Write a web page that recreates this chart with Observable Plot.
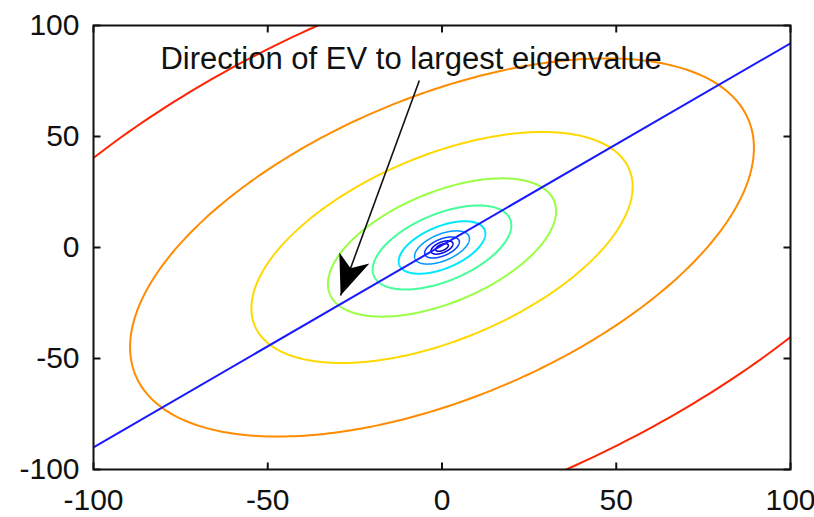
<!DOCTYPE html>
<html><head><meta charset="utf-8">
<script src="https://cdn.jsdelivr.net/npm/d3@7"></script>
<script src="https://cdn.jsdelivr.net/npm/@observablehq/plot@0.6"></script>
<style>
body{margin:0;background:#fff}
#chart{width:814px;height:517px}
</style>
</head><body><div id="chart"></div>
<script>
// ---- data ----
const xTicks = [-100, -50, 0, 50, 100];
const yTicks = [-100, -50, 0, 50, 100];
// semi-major axis (along the eigenvector) of each contour, outermost first
const contourSemiMajor = [181, 108, 66, 39.5, 24, 15, 9.5, 6, 3.8, 2.2];
const contourColors = ["#ff2400", "#ff8c00", "#ffd800", "#99ff44", "#44ff99", "#00e8ff", "#0099ff", "#0044ff", "#0000e8", "#0000b0"];
const contourAxisRatio = 1.8;     // major / minor
const evSlope = 0.91;             // slope of eigenvector to largest eigenvalue
const evLineX = [-100, 100];
const evLineY = [-90, 92];
const arrowFrom = {x: -6.5, y: 75.2};
const arrowTip = {x: -29.1, y: -21.6};
const noteText = "Direction of EV to largest eigenvalue";
const notePos = {x: -80.8, y: 84.7};

// ---- layout ----
const W = 814, H = 517, mL = 93, mR = 24, mT = 25, mB = 48;
const theta = Math.atan(evSlope);

function ellipse(a, k) {
  const b = a / contourAxisRatio, pts = [];
  for (let i = 0; i <= 360; i++) {
    const t = i / 360 * 2 * Math.PI;
    const u = a * Math.cos(t), v = b * Math.sin(t);
    pts.push({x: u * Math.cos(theta) - v * Math.sin(theta), y: u * Math.sin(theta) + v * Math.cos(theta), k});
  }
  return pts;
}

const kx = (W - mL - mR) / 200, ky = (H - mT - mB) / 200;
const dxp = (arrowTip.x - arrowFrom.x) * kx, dyp = -(arrowTip.y - arrowFrom.y) * ky;
const phi = Math.atan2(-dxp, dyp) * 180 / Math.PI;
const arrowHead = {draw(ctx) { ctx.moveTo(0, 0); ctx.lineTo(-16, -40); ctx.lineTo(0, -29); ctx.lineTo(16, -40); ctx.closePath(); }};

const contourMarks = contourSemiMajor.map((a, i) =>
  Plot.line(ellipse(a, i), {x: "x", y: "y", stroke: contourColors[i], strokeWidth: i >= 6 ? 1.5 : 2, clip: true}));

const evLine = evLineX.map((x, i) => ({x, y: evLineY[i]}));
const fmt = d => String(d);
const tickPx = 7;
const tx = tickPx / kx, ty = tickPx / ky;
const xMin = xTicks[0], xMax = xTicks[xTicks.length - 1];
const yMin = yTicks[0], yMax = yTicks[yTicks.length - 1];
const tickSegs = [
  ...xTicks.map(t => ({x1: t, x2: t, y1: yMin, y2: yMin + ty})),
  ...xTicks.map(t => ({x1: t, x2: t, y1: yMax, y2: yMax - ty})),
  ...yTicks.map(t => ({x1: xMin, x2: xMin + tx, y1: t, y2: t})),
  ...yTicks.map(t => ({x1: xMax, x2: xMax - tx, y1: t, y2: t}))
];

const chart = Plot.plot({
  width: W, height: H,
  marginLeft: mL, marginRight: mR, marginTop: mT, marginBottom: mB,
  style: {fontFamily: "'Liberation Sans', Arial, Helvetica, sans-serif", fontSize: "30px", color: "#111", background: "#fff", overflow: "visible"},
  x: {domain: [-100, 100]},
  y: {domain: [-100, 100]},
  marks: [
    ...contourMarks,
    Plot.line(evLine, {x: "x", y: "y", stroke: "#1a1aff", strokeWidth: 2, clip: true}),
    Plot.link([{x1: arrowFrom.x, y1: arrowFrom.y, x2: arrowTip.x, y2: arrowTip.y}], {x1: "x1", y1: "y1", x2: "x2", y2: "y2", stroke: "#111", strokeWidth: 1.6}),
    Plot.dot([arrowTip], {x: "x", y: "y", symbol: arrowHead, fill: "#000", stroke: "none", rotate: phi, r: 5}),
    Plot.text([noteText], {x: notePos.x, y: notePos.y, text: d => d, textAnchor: "start", lineAnchor: "middle", fontSize: 31, fill: "#111"}),
    Plot.axisX({ticks: xTicks, anchor: "bottom", tickSize: 0, tickPadding: 19, fontSize: 30, label: null, tickFormat: fmt}),
    Plot.axisY({ticks: yTicks, anchor: "left", tickSize: 0, tickPadding: 14, fontSize: 30, label: null, tickFormat: fmt}),
    // inward ticks on all four sides
    Plot.link(tickSegs, {x1: "x1", y1: "y1", x2: "x2", y2: "y2", stroke: "#111", strokeWidth: 2}),
    Plot.frame({stroke: "#111", strokeWidth: 2})
  ]
});
document.getElementById("chart").appendChild(chart);
</script>
</body></html>
